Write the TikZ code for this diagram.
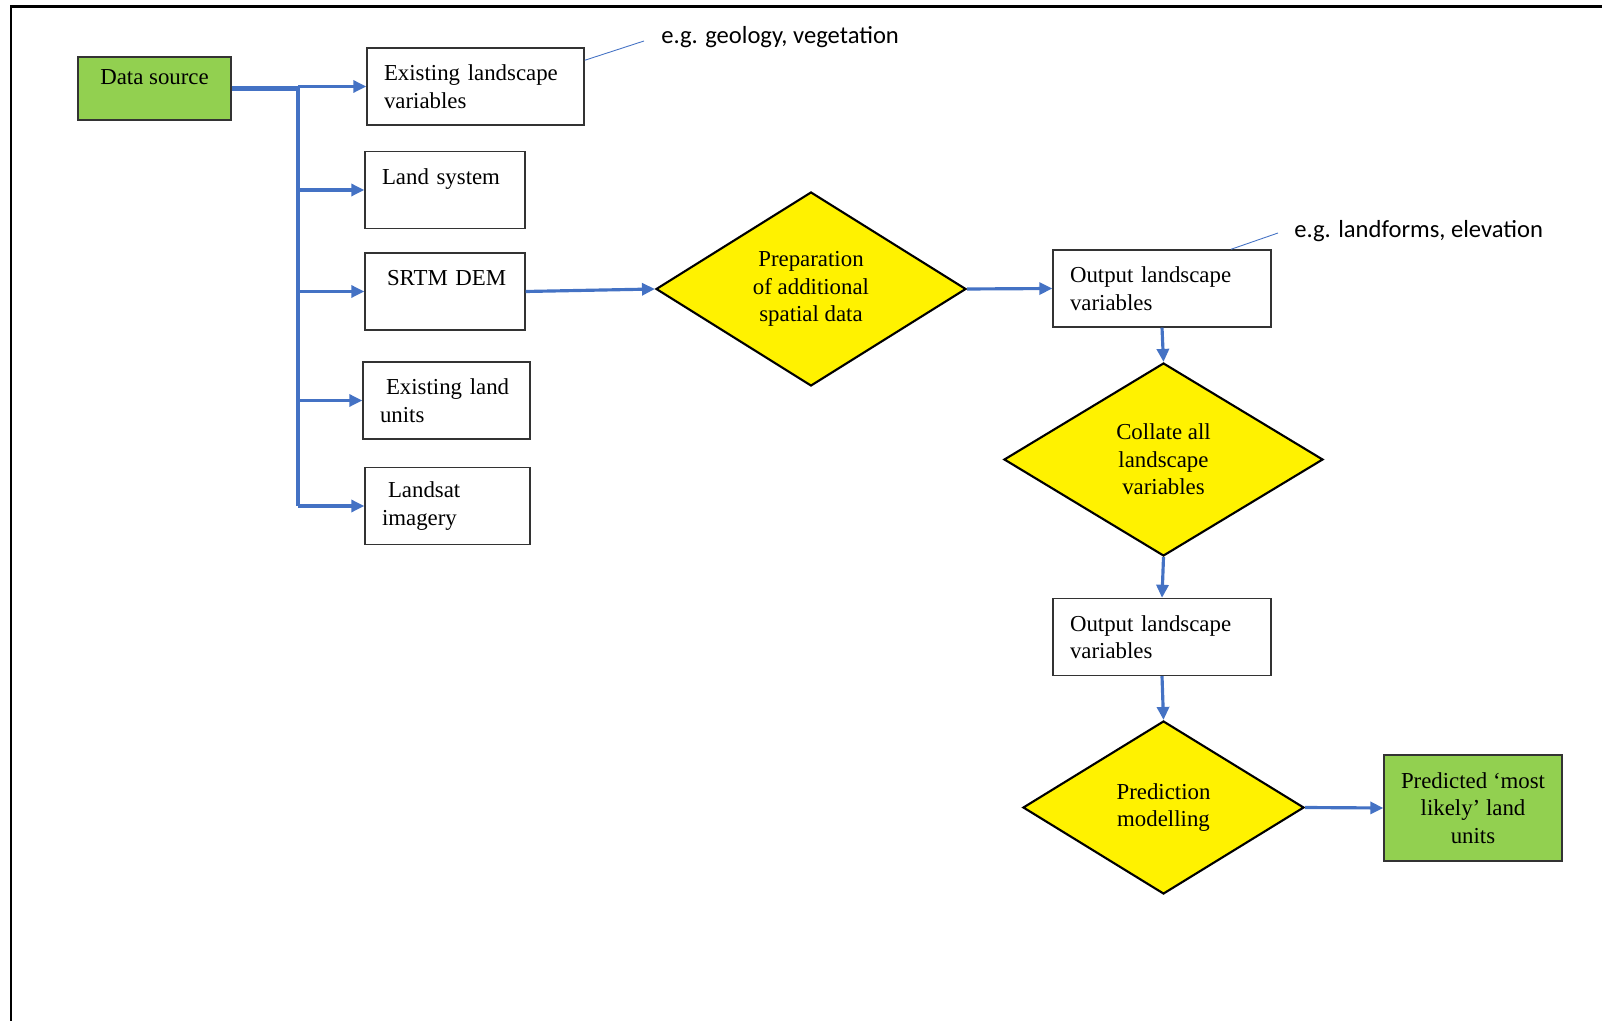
\documentclass[tikz,border=0pt]{standalone}
\usepackage{fontspec}
\setmainfont{Liberation Serif}
\newfontfamily\notefont{Carlito}
\usepackage{tikz}
\usetikzlibrary{shapes.geometric, positioning, arrows.meta}
\definecolor{flowblue}{RGB}{68,114,196}
\definecolor{srcgreen}{RGB}{146,208,80}
\tikzset{
  varbox/.style={
    rectangle, draw=black!80, line width=0.8pt, fill=white,
    minimum height=1.54cm,
    font=\fontsize{13pt}{15.7pt}\selectfont,
    align=left,
    text width=#1,
    inner xsep=0.34cm
  },
  sourcebox/.style={
    rectangle, draw=black!80, line width=0.8pt, fill=srcgreen,
    font=\fontsize{13pt}{15.7pt}\selectfont,
    align=center
  },
  decision/.style={
    diamond, draw=black, line width=1.2pt, fill=yellow,
    aspect=1.6, inner sep=0pt,
    font=\fontsize{13pt}{15.7pt}\selectfont,
    align=center
  },
  note/.style={font=\notefont\fontsize{14pt}{17pt}\selectfont, anchor=west, inner sep=0pt},
  % connectors
  flow/.style={-{Triangle[length=0.26cm,width=0.24cm]}, draw=flowblue, line width=1.8pt},
  trunk/.style={draw=flowblue, line width=2pt},
  feed/.style={draw=flowblue, line width=2.4pt},
  leader/.style={draw=flowblue, line width=0.5pt},
  frame/.style={draw=black, line width=1.7pt}
}

\begin{document}
\begin{tikzpicture}
\useasboundingbox (0,0) rectangle (32.04,-20.42);

% Cornice
\draw[frame] (0.22,-20.6) -- (0.22,-0.14) -- (32.2,-0.14);

% Sorgente dei dati
\node[sourcebox, minimum width=3.06cm, minimum height=1.26cm, text depth=0.44cm] (datasrc) at (3.09,-1.77) {Data source};

% Colonna dei dati di ingresso
\node[varbox=3.66cm] (exland) at (9.51,-1.73) {Existing landscape\\variables};
\node[varbox=2.52cm] (landsys) at (8.90,-3.80) {Land system\\\mbox{}};
\node[varbox=2.52cm] (srtm) at (8.90,-5.83) {\hspace{0.1cm}SRTM DEM\\\mbox{}};
\node[varbox=2.66cm] (exunits) at (8.93,-8.01) {\hspace{0.12cm}Existing land\\units};
\node[varbox=2.62cm] (landsat) at (8.95,-10.12) {\hspace{0.12cm}Landsat\\imagery};

% Elaborazione
\node[decision, minimum width=6.2cm, minimum height=3.88cm] (prep) at (16.22,-5.78) {Preparation\\of additional\\spatial data};
\node[varbox=3.68cm] (outA) at (23.24,-5.77) {Output landscape\\variables};
\node[decision, minimum width=6.38cm, minimum height=3.86cm] (collate) at (23.27,-9.19) {Collate all\\landscape\\variables};
\node[varbox=3.68cm] (outB) at (23.24,-12.74) {Output landscape\\variables};
\node[decision, minimum width=5.62cm, minimum height=3.46cm] (predict) at (23.27,-16.15) {Prediction\\modelling};
\node[sourcebox, minimum width=3.56cm, minimum height=2.12cm] (predicted) at (29.46,-16.16) {Predicted ‘most\\likely’ land\\units};

% Note
\node[note] (geonote) at (13.22,-0.74) {e.g. geology, vegetation};
\node[note] (formnote) at (25.88,-4.62) {e.g. landforms, elevation};
\coordinate (geotip) at (12.88,-0.82);
\coordinate (formtip) at (25.56,-4.66);
\draw[leader] ([yshift=-0.26cm]exland.north east) -- (geotip);
\draw[leader] ([xshift=1.38cm]outA.north) -- (formtip);

% Diramazione dalla sorgente
\coordinate (split) at (5.96,-1.77);
\draw[feed] (datasrc.east) -- (split);
\draw[trunk] (split) -- (split |- landsat.west);
\draw[flow] (split |- exland.west) -- (exland.west);
\draw[flow] (split |- landsys.west) -- (landsys.west);
\draw[flow] (split |- srtm.west) -- (srtm.west);
\draw[flow] (split |- exunits.west) -- (exunits.west);
\draw[flow] (split |- landsat.west) -- (landsat.west);

% Flusso principale
\draw[flow] (srtm.east) -- (prep.west);
\draw[flow] (prep.east) -- (outA.west);
\draw[flow] (outA.south) -- (collate.north);
\draw[flow] (collate.south) -- (outB.north);
\draw[flow] (outB.south) -- (predict.north);
\draw[flow] (predict.east) -- (predicted.west);

\end{tikzpicture}
\end{document}
